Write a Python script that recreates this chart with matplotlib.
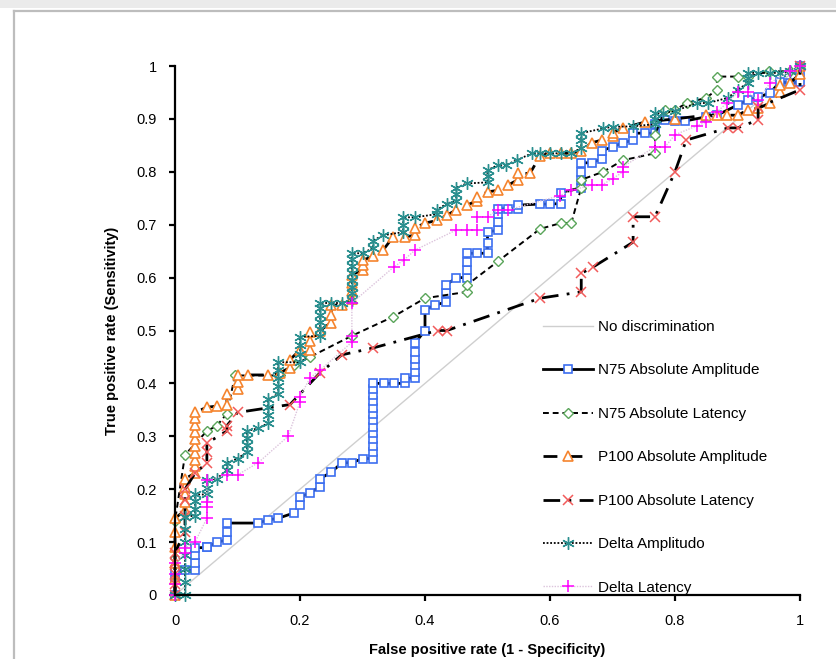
import matplotlib
matplotlib.use("Agg")
import matplotlib.pyplot as plt
from matplotlib.patches import Rectangle
from matplotlib.lines import Line2D

plt.rcParams['font.family'] = ['Liberation Sans', 'DejaVu Sans']

# ---------------- data ----------------
diag_x = [0, 1]
diag_y = [0, 1]

n75amp_x = [0, 0, 0, 0.016, 0.032, 0.032, 0.032, 0.032, 0.051, 0.051,
            0.067, 0.083, 0.083, 0.083, 0.133, 0.149, 0.165, 0.19, 0.20, 0.20,
            0.216, 0.232, 0.232, 0.25, 0.267, 0.283, 0.30, 0.317, 0.317, 0.317,
            0.317, 0.317, 0.317, 0.317, 0.317, 0.317, 0.317, 0.317, 0.317, 0.317,
            0.334, 0.35, 0.368, 0.368, 0.384, 0.384, 0.384, 0.384, 0.384, 0.384,
            0.40, 0.40, 0.416, 0.434, 0.434, 0.434, 0.45, 0.467, 0.467, 0.467,
            0.467, 0.483, 0.50, 0.50, 0.50, 0.517, 0.517, 0.517, 0.517, 0.533,
            0.549, 0.549, 0.584, 0.60, 0.617, 0.617, 0.65, 0.65, 0.65, 0.65,
            0.667, 0.683, 0.683, 0.70, 0.717, 0.733, 0.733, 0.752, 0.768, 0.768,
            0.784, 0.80, 0.816, 0.85, 0.867, 0.90, 0.917, 0.933, 0.952, 0.968,
            0.984, 1.0, 1.0, 1.0]
n75amp_y = [0, 0.03, 0.047, 0.047, 0.047, 0.06, 0.075, 0.089, 0.09, 0.09,
            0.1, 0.104, 0.12, 0.136, 0.136, 0.142, 0.145, 0.155, 0.17, 0.185,
            0.193, 0.205, 0.22, 0.232, 0.25, 0.25, 0.258, 0.258, 0.27, 0.282,
            0.294, 0.306, 0.318, 0.33, 0.342, 0.354, 0.366, 0.378, 0.39, 0.40,
            0.40, 0.40, 0.40, 0.41, 0.41, 0.422, 0.434, 0.446, 0.46, 0.476,
            0.50, 0.539, 0.548, 0.554, 0.57, 0.586, 0.60, 0.60, 0.615, 0.63,
            0.646, 0.646, 0.646, 0.666, 0.686, 0.69, 0.705, 0.72, 0.73, 0.73,
            0.73, 0.737, 0.739, 0.739, 0.74, 0.76, 0.77, 0.785, 0.80, 0.817,
            0.817, 0.825, 0.84, 0.847, 0.855, 0.86, 0.873, 0.873, 0.873, 0.89,
            0.898, 0.896, 0.896, 0.904, 0.907, 0.926, 0.936, 0.941, 0.949, 0.97,
            0.968, 0.97, 0.985, 1.0]

n75lat_x = [0, 0, 0, 0.016, 0.051, 0.067, 0.083, 0.096, 0.168, 0.19,
            0.216, 0.283, 0.349, 0.40, 0.467, 0.467, 0.517, 0.584, 0.617, 0.634,
            0.65, 0.65, 0.685, 0.717, 0.768, 0.768, 0.784, 0.80, 0.819, 0.85,
            0.867, 0.867, 0.90, 0.917, 0.95, 0.984, 1.0]
n75lat_y = [0, 0.07, 0.14, 0.265, 0.31, 0.32, 0.343, 0.415, 0.415, 0.435,
            0.45, 0.49, 0.526, 0.561, 0.573, 0.586, 0.631, 0.692, 0.703, 0.703,
            0.77, 0.785, 0.80, 0.822, 0.835, 0.87, 0.917, 0.917, 0.93, 0.94,
            0.955, 0.98, 0.98, 0.98, 0.99, 0.99, 1.0]

p100amp_x = [0, 0, 0, 0, 0, 0, 0.016, 0.016, 0.016, 0.016,
             0.016, 0.032, 0.032, 0.032, 0.032, 0.032, 0.032, 0.032, 0.032, 0.032,
             0.032, 0.051, 0.067, 0.083, 0.083, 0.10, 0.10, 0.10, 0.117, 0.149,
             0.168, 0.184, 0.184, 0.20, 0.216, 0.216, 0.216, 0.232, 0.25, 0.25,
             0.25, 0.267, 0.283, 0.283, 0.283, 0.283, 0.30, 0.30, 0.30, 0.317,
             0.333, 0.349, 0.368, 0.384, 0.384, 0.40, 0.419, 0.435, 0.45, 0.467,
             0.483, 0.483, 0.50, 0.517, 0.533, 0.549, 0.549, 0.568, 0.584, 0.60,
             0.617, 0.634, 0.65, 0.667, 0.683, 0.70, 0.70, 0.717, 0.752, 0.80,
             0.85, 0.867, 0.883, 0.90, 0.917, 0.933, 0.952, 0.968, 0.968, 0.984,
             1.0, 1.0]
p100amp_y = [0, 0.03, 0.06, 0.09, 0.12, 0.145, 0.16, 0.175, 0.19, 0.205,
             0.22, 0.23, 0.243, 0.256, 0.269, 0.282, 0.295, 0.308, 0.321, 0.334,
             0.345, 0.355, 0.357, 0.36, 0.38, 0.39, 0.403, 0.416, 0.416, 0.416,
             0.42, 0.43, 0.445, 0.463, 0.463, 0.48, 0.497, 0.50, 0.515, 0.53,
             0.548, 0.548, 0.56, 0.575, 0.59, 0.605, 0.615, 0.624, 0.633, 0.64,
             0.652, 0.677, 0.677, 0.68, 0.694, 0.703, 0.708, 0.718, 0.728, 0.737,
             0.745, 0.752, 0.762, 0.765, 0.775, 0.785, 0.797, 0.797, 0.83, 0.835,
             0.835, 0.835, 0.84, 0.855, 0.86, 0.868, 0.874, 0.883, 0.894, 0.90,
             0.907, 0.907, 0.907, 0.907, 0.917, 0.92, 0.93, 0.95, 0.964, 0.968,
             0.985, 1.0]

p100lat_x = [0, 0, 0, 0, 0, 0.016, 0.016, 0.016, 0.016, 0.032,
             0.051, 0.051, 0.051, 0.083, 0.083, 0.10, 0.184, 0.232, 0.267, 0.317,
             0.42, 0.435, 0.584, 0.65, 0.65, 0.669, 0.733, 0.733, 0.768, 0.80,
             0.818, 0.885, 0.90, 0.933, 0.933, 1.0, 1.0]
p100lat_y = [0, 0.02, 0.04, 0.06, 0.08, 0.12, 0.15, 0.18, 0.20, 0.23,
             0.25, 0.27, 0.287, 0.31, 0.32, 0.345, 0.36, 0.42, 0.454, 0.467,
             0.50, 0.50, 0.561, 0.573, 0.608, 0.62, 0.667, 0.715, 0.715, 0.80,
             0.86, 0.883, 0.883, 0.898, 0.922, 0.955, 1.0]

deltaamp_x = [0, 0.016, 0.016, 0.016, 0.016, 0.016, 0.016, 0.016, 0.032, 0.032,
              0.032, 0.032, 0.051, 0.051, 0.051, 0.067, 0.083, 0.083, 0.10, 0.115,
              0.115, 0.115, 0.115, 0.133, 0.149, 0.149, 0.149, 0.149, 0.165, 0.165,
              0.165, 0.165, 0.165, 0.20, 0.20, 0.20, 0.20, 0.232, 0.232, 0.232,
              0.232, 0.232, 0.232, 0.25, 0.267, 0.283, 0.283, 0.283, 0.283, 0.283,
              0.283, 0.283, 0.283, 0.30, 0.317, 0.317, 0.333, 0.365, 0.365, 0.365,
              0.384, 0.419, 0.419, 0.435, 0.45, 0.45, 0.45, 0.467, 0.50, 0.50,
              0.50, 0.517, 0.53, 0.547, 0.571, 0.584, 0.60, 0.617, 0.634, 0.65,
              0.65, 0.65, 0.685, 0.70, 0.733, 0.768, 0.768, 0.768, 0.781, 0.80,
              0.835, 0.853, 0.885, 0.90, 0.917, 0.917, 0.917, 0.933, 0.952, 0.968,
              0.984, 1.0]
deltaamp_y = [0, 0, 0.025, 0.05, 0.075, 0.10, 0.125, 0.148, 0.15, 0.163,
              0.177, 0.19, 0.19, 0.203, 0.217, 0.22, 0.236, 0.25, 0.258, 0.27,
              0.283, 0.297, 0.31, 0.315, 0.325, 0.34, 0.355, 0.37, 0.38, 0.395,
              0.41, 0.425, 0.44, 0.44, 0.456, 0.472, 0.488, 0.49, 0.503, 0.516,
              0.529, 0.542, 0.552, 0.552, 0.552, 0.557, 0.57, 0.583, 0.596, 0.609,
              0.622, 0.635, 0.646, 0.646, 0.656, 0.67, 0.68, 0.686, 0.70, 0.714,
              0.714, 0.72, 0.728, 0.74, 0.745, 0.758, 0.77, 0.778, 0.78, 0.792,
              0.803, 0.813, 0.813, 0.822, 0.835, 0.835, 0.835, 0.835, 0.835, 0.845,
              0.86, 0.873, 0.882, 0.885, 0.886, 0.89, 0.90, 0.911, 0.911, 0.915,
              0.93, 0.93, 0.94, 0.955, 0.968, 0.977, 0.987, 0.987, 0.987, 0.987,
              0.99, 1.0]

deltalat_x = [0, 0, 0, 0, 0.016, 0.016, 0.032, 0.051, 0.051, 0.051,
              0.051, 0.083, 0.10, 0.133, 0.181, 0.20, 0.20, 0.216, 0.232, 0.283,
              0.283, 0.283, 0.35, 0.366, 0.384, 0.45, 0.467, 0.483, 0.483, 0.50,
              0.517, 0.533, 0.616, 0.634, 0.667, 0.683, 0.70, 0.717, 0.717, 0.768,
              0.784, 0.80, 0.835, 0.85, 0.867, 0.883, 0.90, 0.917, 0.933, 0.952,
              0.984, 1.0]
deltalat_y = [0, 0.02, 0.04, 0.06, 0.08, 0.089, 0.1, 0.145, 0.166, 0.175,
              0.217, 0.227, 0.227, 0.25, 0.30, 0.365, 0.375, 0.41, 0.425, 0.478,
              0.49, 0.552, 0.62, 0.633, 0.652, 0.69, 0.69, 0.69, 0.715, 0.715,
              0.728, 0.728, 0.755, 0.765, 0.775, 0.775, 0.787, 0.80, 0.81, 0.847,
              0.847, 0.87, 0.887, 0.894, 0.913, 0.93, 0.95, 0.95, 0.935, 0.968,
              0.99, 1.0]

legend_labels = ["No discrimination", "N75 Absolute Amplitude", "N75 Absolute Latency",
                 "P100 Absolute Amplitude", "P100 Absolute Latency",
                 "Delta Amplitudo", "Delta Latency"]

x_ticks = [0, 0.2, 0.4, 0.6, 0.8, 1.0]
x_ticklabels = ["0", "0.2", "0.4", "0.6", "0.8", "1"]
y_ticks = [0, 0.1, 0.2, 0.3, 0.4, 0.5, 0.6, 0.7, 0.8, 0.9, 1.0]
y_ticklabels = ["0", "0.1", "0.2", "0.3", "0.4", "0.5", "0.6", "0.7", "0.8", "0.9", "1"]

# ---------------- figure ----------------
W, H = 836, 659
fig = plt.figure(figsize=(W / 100, H / 100), dpi=100)
fig.patch.set_facecolor("white")

# page decoration: grey band on top and grey frame
fig.patches.append(Rectangle((0, 1 - 8 / H), 1, 8 / H, transform=fig.transFigure,
                             facecolor="#ebebeb", edgecolor="none", zorder=0))
fig.lines.append(Line2D([13.5 / W, 1], [1 - 11 / H, 1 - 11 / H], transform=fig.transFigure,
                        color="#bdbdbd", lw=1.6))
fig.lines.append(Line2D([14 / W, 14 / W], [0, 1 - 11 / H], transform=fig.transFigure,
                        color="#bdbdbd", lw=1.6))

ax = fig.add_axes([175 / W, (H - 595) / H, 625 / W, 529 / H])
ax.set_facecolor("none")


def series(x, y, **kw):
    n = min(len(x), len(y))
    return ax.plot(x[:n], y[:n], clip_on=False, **kw)[0]


h0, = ax.plot(diag_x, diag_y, color="#cfcfcf", lw=1.0)
h1 = series(n75amp_x, n75amp_y, color="black", lw=2.0, ls="-",
            marker="s", ms=6.4, mfc="white", mec="#3c6ef0", mew=1.2)
h2 = series(n75lat_x, n75lat_y, color="black", lw=1.4, ls=(0, (3, 2)),
            marker="D", ms=5.0, mfc="white", mec="#5aa55a", mew=1.0)
h3 = series(p100amp_x, p100amp_y, color="black", lw=2.0, ls=(0, (5, 4)),
            marker="^", ms=7.0, mfc="white", mec="#f5842e", mew=1.2)
h4 = series(p100lat_x, p100lat_y, color="black", lw=2.0, ls=(0, (6, 3, 1, 3)),
            marker="x", ms=7.5, mec="#f25b5b", mew=1.1)
h5 = series(deltaamp_x, deltaamp_y, color="black", lw=1.3, ls=(0, (1, 1)),
            marker=(6, 2, 0), ms=9.0, mec="#2a8f8f", mew=1.0)
h6 = series(deltalat_x, deltalat_y, color="#dcc4dc", lw=1.0, ls=(0, (1, 1)),
            marker="+", ms=9.0, mec="#ff00ff", mew=1.1)

ax.set_xlim(0, 1)
ax.set_ylim(0, 1)
for s in ("top", "right"):
    ax.spines[s].set_visible(False)
for s in ("left", "bottom"):
    ax.spines[s].set_linewidth(1.6)
ax.set_xticks(x_ticks)
ax.set_xticklabels(x_ticklabels)
ax.set_yticks(y_ticks)
ax.set_yticklabels(y_ticklabels)
ax.tick_params(axis="both", direction="out", length=4, width=1.6, labelsize=10.5,
               colors="black")
ax.tick_params(axis="x", pad=10)
ax.tick_params(axis="y", pad=9)

ax.set_xlabel("False positive rate (1 - Specificity)", fontsize=10.5, fontweight="bold",
              va="center")
ax.xaxis.set_label_coords(0.5, -0.104)
ax.set_ylabel("True positive rate (Sensitivity)", fontsize=10.5, fontweight="bold",
              va="center")
ax.yaxis.set_label_coords(-0.1008, 0.5)

leg = ax.legend([h0, h1, h2, h3, h4, h5, h6], legend_labels, loc="upper left",
                bbox_to_anchor=(0.589, 0.520), frameon=False, fontsize=11,
                handlelength=3.27, handletextpad=0.33, labelspacing=1.93,
                borderpad=0, borderaxespad=0, numpoints=1)

fig.savefig("out.png", dpi=100)
